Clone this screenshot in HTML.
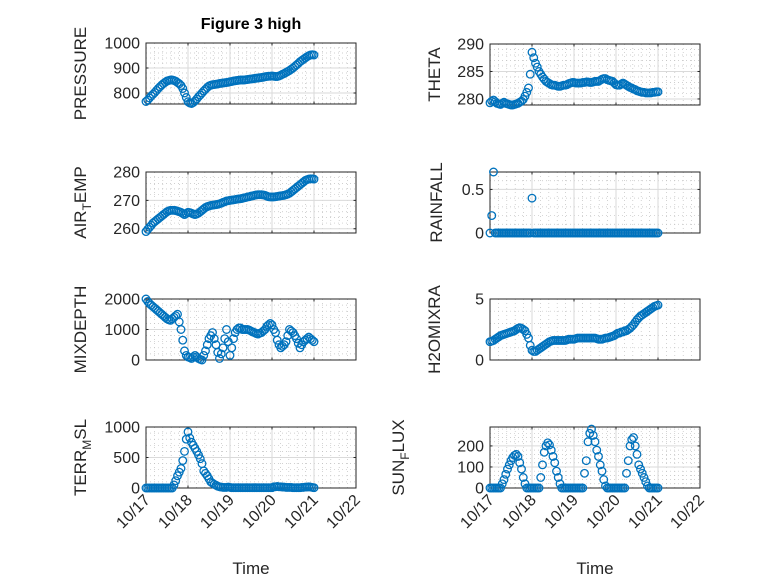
<!DOCTYPE html>
<html><head><meta charset="utf-8">
<style>
html,body{margin:0;padding:0;background:#fff;}
svg{display:block;font-family:"Liberation Sans","DejaVu Sans",sans-serif;}
</style></head>
<body>
<svg id="fig" width="778" height="583" viewBox="0 0 778 583" xmlns="http://www.w3.org/2000/svg">
<rect width="778" height="583" fill="#fff"/>
<text x="251" y="29" text-anchor="middle" font-size="16" font-weight="bold" fill="#000">Figure 3 high</text>
</svg>
<script>
// hourly samples from 10/17 00:00 to 10/21 00:00
const pressure=[766,772,780,788,795,802,810,818,825,832,838,843,848,850,852,852,850,847,842,837,830,818,800,782,765,
760,758,762,768,776,785,792,800,808,815,822,828,831,833,834,835,836,838,839,840,841,842,843,845,
846,848,849,850,851,852,852,852,853,854,855,856,857,858,859,860,861,862,863,865,866,867,867,868,
867,866,866,868,871,875,878,882,886,890,895,900,906,912,918,925,930,935,940,945,949,952,953,952];
const theta=[279.3,279.6,279.8,279.5,279.2,279.1,279.0,279.2,279.4,279.2,279.1,279.0,278.9,278.9,279.0,279.1,279.2,279.4,279.6,279.9,280.5,281.2,282.0,284.5,288.5,
287.5,286.5,285.8,285.0,284.5,284.0,283.6,283.2,283.0,282.8,282.6,282.5,282.5,282.4,282.3,282.3,282.4,282.5,282.5,282.6,282.8,282.9,283.0,283.0,
282.9,282.9,282.9,282.9,283.0,283.0,283.1,283.1,283.0,283.0,283.1,283.2,283.2,283.2,283.4,283.6,283.7,283.7,283.5,283.4,283.3,283.2,282.9,282.6,
282.5,282.5,282.7,282.9,282.7,282.5,282.3,282.1,282.0,281.8,281.7,281.5,281.4,281.3,281.2,281.2,281.1,281.1,281.1,281.1,281.2,281.2,281.3,281.3];
const airTemp=[259,259.8,260.5,261.2,262,262.5,263,263.5,264,264.5,265,265.5,266,266.3,266.5,266.5,266.5,266.4,266.2,266,265.8,265.4,265,265.4,265.8,
265.7,265.5,265.2,265,265.2,265.5,266,266.5,267,267.5,267.8,268,268.2,268.3,268.4,268.5,268.6,268.8,269,269.3,269.5,269.8,269.9,270,
270.1,270.2,270.3,270.4,270.5,270.6,270.7,270.9,271,271.2,271.3,271.5,271.6,271.8,271.9,272,272,272,271.9,271.8,271.5,271.3,271.2,271.2,
271.2,271.3,271.4,271.5,271.6,271.7,271.8,272,272.2,272.5,273,273.5,274,274.5,275,275.5,276,276.5,277,277.3,277.5,277.6,277.6,277.5];
const rainfall=[0,0.2,0.7,0,0,0,0,0,0,0,0,0,0,0,0,0,0,0,0,0,0,0,0,0,0.4,
0,0,0,0,0,0,0,0,0,0,0,0,0,0,0,0,0,0,0,0,0,0,0,0,
0,0,0,0,0,0,0,0,0,0,0,0,0,0,0,0,0,0,0,0,0,0,0,0,
0,0,0,0,0,0,0,0,0,0,0,0,0,0,0,0,0,0,0,0,0,0,0,0];
const mixDepth=[2000,1920,1850,1800,1750,1700,1650,1600,1550,1500,1450,1400,1350,1320,1300,1350,1400,1450,1500,1250,1000,650,300,150,100,
80,50,100,150,100,50,20,0,150,300,500,700,800,900,700,500,250,50,200,400,700,1000,600,150,
400,700,900,1000,1050,1050,1000,1000,1000,1000,980,950,920,900,870,850,880,900,950,1000,1100,1150,1200,1150,
1000,900,650,500,400,450,500,600,800,1000,950,900,800,700,550,400,500,600,650,700,750,700,650,600];
const h2oMixRatio=[1.5,1.55,1.6,1.7,1.8,1.9,2.0,2.05,2.1,2.15,2.2,2.25,2.3,2.35,2.4,2.5,2.6,2.65,2.6,2.5,2.4,2.1,1.8,1.2,0.8,
0.7,0.7,0.8,0.9,1.0,1.1,1.2,1.3,1.4,1.5,1.55,1.6,1.6,1.6,1.6,1.6,1.6,1.6,1.6,1.65,1.7,1.7,1.7,1.7,
1.75,1.8,1.8,1.8,1.8,1.8,1.8,1.8,1.8,1.8,1.8,1.8,1.75,1.7,1.7,1.7,1.75,1.8,1.8,1.85,1.9,1.95,2.0,2.1,
2.2,2.2,2.3,2.3,2.4,2.4,2.5,2.6,2.75,2.9,3.1,3.3,3.45,3.6,3.7,3.8,3.9,4.0,4.1,4.2,4.3,4.4,4.45,4.5];
const terrMsl=[0,0,0,0,0,0,0,0,0,0,0,0,0,0,0,0,50,120,200,260,320,450,600,800,920,
820,750,700,650,600,540,480,400,280,240,200,150,100,80,60,45,30,20,15,10,10,10,15,10,
5,5,5,5,5,5,5,5,5,5,5,5,5,5,5,5,5,5,5,5,5,5,5,5,
20,20,25,20,20,15,15,10,10,10,10,5,5,5,5,5,10,10,15,15,20,15,10,5];
const sunFlux=[0,0,0,0,0,0,0,20,40,65,90,110,130,145,155,160,150,120,90,50,20,0,0,0,0,
0,0,0,0,50,110,170,200,215,205,180,150,120,80,50,20,0,0,0,0,0,0,0,0,
0,0,0,0,0,70,130,220,260,280,250,220,180,150,110,80,40,10,0,0,0,0,0,0,
0,0,0,0,0,70,130,200,230,240,200,160,110,90,70,50,30,10,0,0,0,0,0,0];
const xTickLabels=["10/17","10/18","10/19","10/20","10/21","10/22"];

const NS="http://www.w3.org/2000/svg";
const svg=document.getElementById('fig');
const BLUE="#0072BD", AX="#262626";
function el(tag,attrs,parent){const e=document.createElementNS(NS,tag);for(const k in attrs)e.setAttribute(k,attrs[k]);(parent||svg).appendChild(e);return e;}

const panels=[
 {key:'pressure',data:pressure,x:146,y:43,ymin:756,ymax:1000,ticks:[800,900,1000],minor:20,label:['PRESSURE'],xt:false,lo:60},
 {key:'theta',data:theta,x:490,y:44,ymin:278.9,ymax:290,ticks:[280,285,290],minor:1,label:['THETA'],xt:false,lo:50},
 {key:'air-temp',data:airTemp,x:146,y:172,ymin:258.5,ymax:280,ticks:[260,270,280],minor:2,label:['AIR','T','EMP'],xt:false,lo:60},
 {key:'rainfall',data:rainfall,x:490,y:172,ymin:0,ymax:0.7,ticks:[0,0.5],minor:0.1,label:['RAINFALL'],xt:false,lo:48},
 {key:'mixdepth',data:mixDepth,x:146,y:299,ymin:0,ymax:2000,ticks:[0,1000,2000],minor:200,label:['MIXDEPTH'],xt:false,lo:60},
 {key:'h2omixratio',data:h2oMixRatio,x:490,y:299,ymin:0,ymax:5,ticks:[0,5],minor:1,label:['H2OMIXRA'],xt:false,lo:50},
 {key:'terr-msl',data:terrMsl,x:146,y:427,ymin:0,ymax:1000,ticks:[0,500,1000],minor:100,label:['TERR','M','SL'],xt:true,lo:60},
 {key:'sun-flux',data:sunFlux,x:490,y:427,ymin:0,ymax:290,ticks:[0,100,200],minor:20,label:['SUN','F','LUX'],xt:true,lo:86}
];
const W=210,H=61,DAYS=5;

panels.forEach(p=>{
 const g=el('g',{});
 
 
 const xs=d=>p.x+d/DAYS*W;
 const ys=v=>p.y+H-(v-p.ymin)/(p.ymax-p.ymin)*H;
 el('rect',{x:p.x,y:p.y,width:W,height:H,fill:'#fff'},g);
 for(let d=0.2;d<DAYS;d+=0.2){if(Math.abs(d-Math.round(d))<1e-6)continue;const X=xs(d);el('line',{x1:X,x2:X,y1:p.y,y2:p.y+H,stroke:'#c0c0c0','stroke-width':0.7,'stroke-dasharray':'1,3'},g);}
 const m0=Math.ceil(p.ymin/p.minor)*p.minor;
 for(let v=m0;v<=p.ymax+1e-9;v+=p.minor){const Y=ys(v);if(p.ticks.some(t=>Math.abs(t-v)<1e-9))continue;el('line',{x1:p.x,x2:p.x+W,y1:Y,y2:Y,stroke:'#c0c0c0','stroke-width':0.7,'stroke-dasharray':'1,3'},g);}
 for(let d=1;d<DAYS;d++){const X=xs(d);el('line',{x1:X,x2:X,y1:p.y,y2:p.y+H,stroke:'#dadada','stroke-width':1},g);}
 p.ticks.forEach(t=>{const Y=ys(t);el('line',{x1:p.x,x2:p.x+W,y1:Y,y2:Y,stroke:'#dadada','stroke-width':1},g);
  el('line',{x1:p.x,x2:p.x+2.5,y1:Y,y2:Y,stroke:AX,'stroke-width':1},g);
  el('line',{x1:p.x+W,x2:p.x+W-2.5,y1:Y,y2:Y,stroke:AX,'stroke-width':1},g);
  const tl=el('text',{x:p.x-6,y:Y+5.5,'text-anchor':'end','font-size':16,fill:AX},g);
  tl.textContent=String(t);
  
  
 });
 for(let d=0;d<=DAYS;d++){const X=xs(d);
  el('line',{x1:X,x2:X,y1:p.y+H,y2:p.y+H-2.5,stroke:AX,'stroke-width':1},g);
  el('line',{x1:X,x2:X,y1:p.y,y2:p.y+2.5,stroke:AX,'stroke-width':1},g);
  if(p.xt){const tx=el('text',{x:X+5,y:p.y+H+13,'text-anchor':'end','font-size':16,fill:AX,transform:`rotate(-45 ${X+5} ${p.y+H+13})`},g);
   tx.textContent=xTickLabels[d];
   
   }
 }
 el('rect',{x:p.x,y:p.y,width:W,height:H,fill:'none',stroke:AX,'stroke-width':1},g);
 p.data.forEach((v,i)=>{const c=el('circle',{cx:xs(i/24),cy:ys(v),r:3.8,fill:'none',stroke:BLUE,'stroke-width':1.3},g);
  
  });
 const lx=p.x-p.lo, ly=p.y+H/2;
 const lbl=el('text',{x:lx,y:ly,'text-anchor':'middle','font-size':17,fill:AX,transform:`rotate(-90 ${lx} ${ly})`},g);
 
 
 if(p.label.length===1){lbl.textContent=p.label[0];}
 else{const a=el('tspan',{},lbl);a.textContent=p.label[0];
  const b=el('tspan',{'font-size':12,dy:5},lbl);b.textContent=p.label[1];
  const c=el('tspan',{dy:-5},lbl);c.textContent=p.label[2];}
 if(p.xt){const xl=el('text',{x:p.x+W/2,y:574,'text-anchor':'middle','font-size':17,fill:AX},g);
  xl.textContent='Time';
  
  }
});
</script>
</body></html>
